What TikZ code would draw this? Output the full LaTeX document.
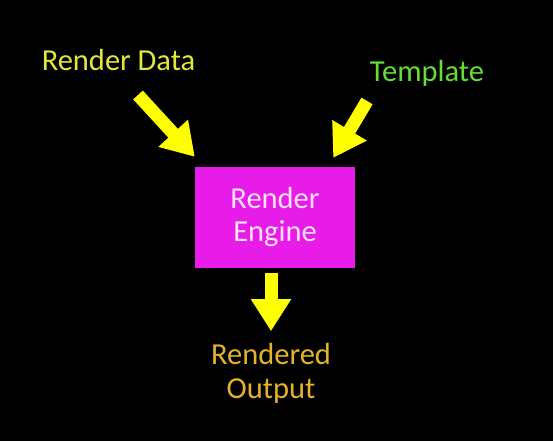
\documentclass[tikz,border=0pt]{standalone}
\usepackage{fontspec}
\setmainfont{Carlito}
\usetikzlibrary{arrows.meta}
\definecolor{dataYellow}{RGB}{225,232,60}
\definecolor{tplGreen}{RGB}{100,222,50}
\definecolor{outGold}{RGB}{228,180,40}
\definecolor{engineMagenta}{RGB}{232,28,232}
\definecolor{enginePink}{RGB}{255,225,255}
\definecolor{arrowYellow}{RGB}{255,255,0}

\begin{document}
\begin{tikzpicture}[x=1pt, y=-1pt,
    bigarrow/.style={arrowYellow, line width=13pt, -{Triangle[length=32pt, width=38pt]}},
    lbl/.style={font=\fontsize{30.5}{34}\selectfont, inner sep=0pt, align=center}]
    % Black background
    \fill[black] (0,0) rectangle (553,441);

    % Render engine box
    \node[lbl, fill=engineMagenta, text=enginePink, minimum width=160pt, minimum height=101pt,
          font=\fontsize{30.5}{33}\selectfont] (engine) at (275,217.5) {Render\\Engine};

    % Input and output labels
    \node[lbl, text=dataYellow, anchor=base] (data) at (118.5,71) {Render Data};
    \node[lbl, text=tplGreen, anchor=base] (tpl) at (427,82) {Template};
    \node[lbl, text=outGold] (out) at (271,373) {Rendered\\Output};

    % Arrow ends
    \coordinate (dataTail) at (138,95);
    \coordinate (tplTail) at (367,101);
    \coordinate (outTail) at ([xshift=-4pt, yshift=-5pt]engine.south);

    % Yellow arrows into and out of the engine
    \draw[bigarrow] (dataTail) -- ([yshift=10pt]engine.north west);
    \draw[bigarrow] (tplTail) -- ([xshift=-22pt, yshift=9pt]engine.north east);
    \draw[bigarrow] (outTail) -- ([xshift=-4pt, yshift=-63pt]engine.south);
\end{tikzpicture}
\end{document}
